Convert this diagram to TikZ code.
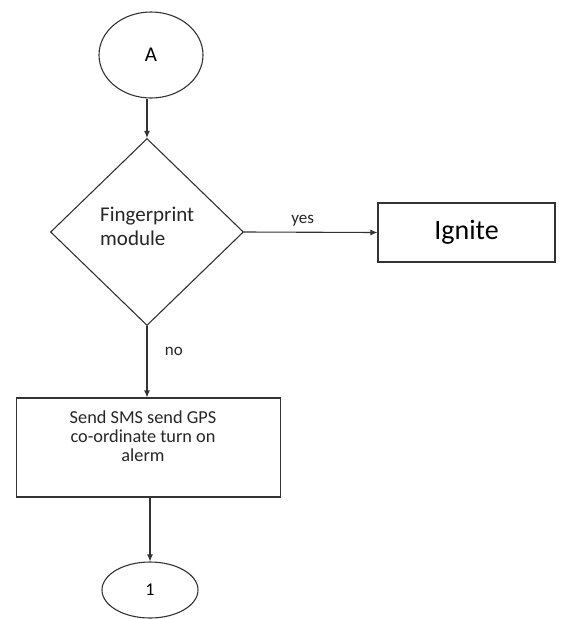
\documentclass[tikz,border=0pt]{standalone}
\usepackage{fontspec}
\setmainfont{Carlito}
\usetikzlibrary{shapes.geometric,arrows.meta}
\begin{document}
\begin{tikzpicture}[x=1pt,y=-1pt,
  line/.style={draw=black!80,line width=1.1pt},
  conn/.style={line,-{Latex[length=7pt,width=6pt]}},
  term/.style={line,ellipse,inner sep=0pt},
  box/.style={line,rectangle,inner sep=0pt},
  lbl/.style={font=\fontsize{17}{20}\selectfont,text=black!85}]
\useasboundingbox (0,0) rectangle (571,619);
\node[term,minimum width=104pt,minimum height=86pt] (A) at (151,55) {\fontsize{21}{24}\selectfont A};
\node[line,diamond,aspect=1.03,minimum width=193pt,minimum height=187pt,inner sep=0pt] (D) at (147,232) {};
\node[anchor=west,align=left,inner sep=0pt,font=\fontsize{21}{24}\selectfont,text=black!85] (Dt) at (100,226) {Fingerprint\\module};
\node[box,minimum width=177pt,minimum height=59pt] (I) at (466.5,232.5) {\fontsize{28}{32}\selectfont Ignite};
\node[box,minimum width=264pt,minimum height=99pt] (S) at (148.5,447.5) {};
\node[align=center,inner sep=0pt,font=\fontsize{18.3}{19}\selectfont,text=black!85] (St) at (143,436) {Send SMS send GPS\\co-ordinate turn on\\alerm};
\node[term,minimum width=96pt,minimum height=56pt] (B) at (150,590) {\fontsize{18}{20}\selectfont 1};
\draw[conn] (A.south -| D.north) -- (D.north);
\draw[conn] (D.east) -- node[lbl,above,pos=0.44,yshift=2pt] {yes} (I.west);
\draw[conn] (D.south) -- node[lbl,right,pos=0.36,xshift=14pt] {no} (D.south |- S.north);
\draw[conn] (S.south -| B.north) -- (B.north);
\end{tikzpicture}
\end{document}
